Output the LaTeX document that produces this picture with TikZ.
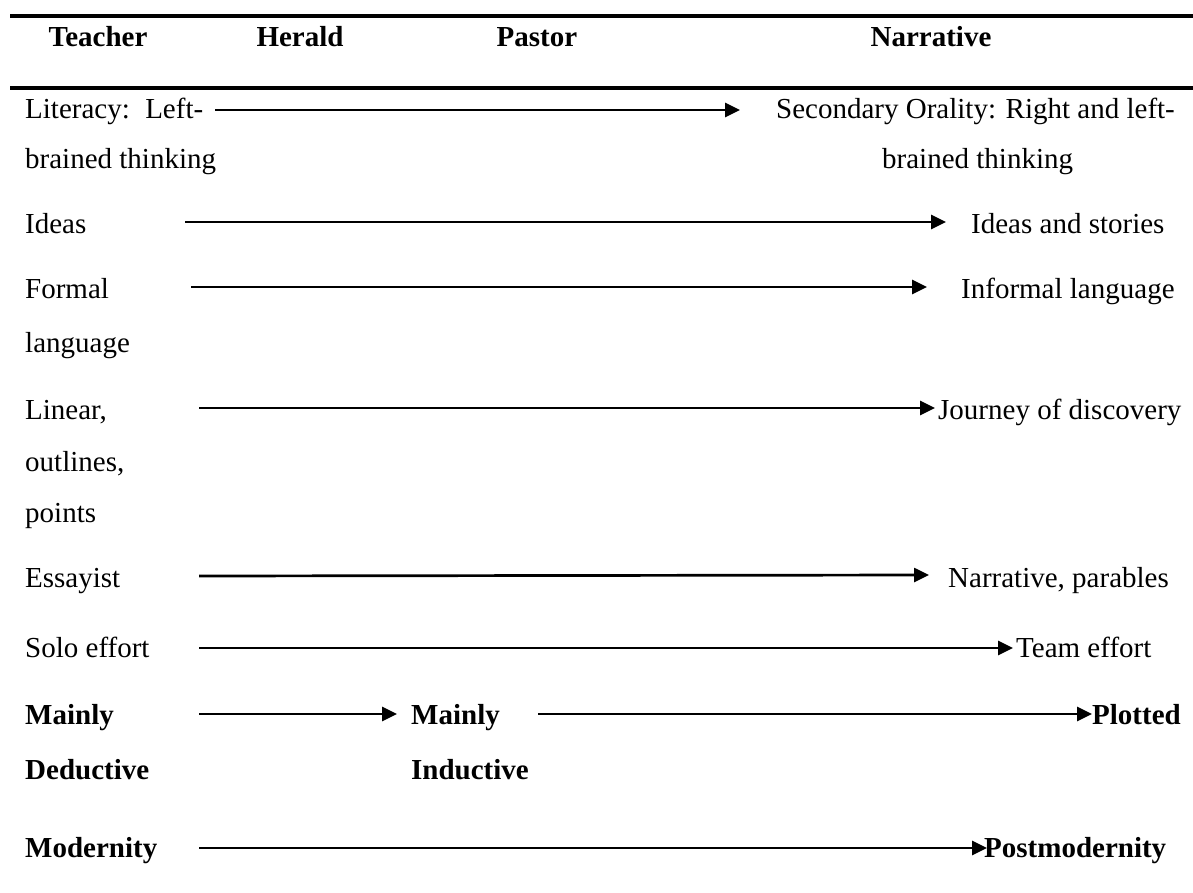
\documentclass[tikz,border=0pt]{standalone}
\usepackage{fontspec}
\setmainfont{Liberation Serif}
\usetikzlibrary{arrows.meta}
\begin{document}
\begin{tikzpicture}[x=1pt,y=-1pt,
  txt/.style={inner sep=0pt,anchor=base west,font=\fontsize{29}{35}\selectfont},
  btxt/.style={txt,font=\fontsize{29}{35}\selectfont\bfseries},
  hd/.style={inner sep=0pt,anchor=base,font=\fontsize{29}{35}\selectfont\bfseries},
  arr/.style={line width=2.7pt,-{Triangle[length=15pt,width=14pt]}},
  rulel/.style={line width=3.2pt}]
\useasboundingbox (0,0) rectangle (1193,893);
% rules
\coordinate (r1a) at (10,16); \coordinate (r1b) at (1193,16);
\coordinate (r2a) at (10,88); \coordinate (r2b) at (1193,88);
\draw[rulel] (r1a) -- (r1b);
\draw[rulel] (r2a) -- (r2b);
% headers
\node[hd] (hteacher) at (98,47) {Teacher};
\node[hd] (hherald) at (300,47) {Herald};
\node[hd] (hpastor) at (537,47) {Pastor};
\node[hd] (hnarr) at (931,47) {Narrative};
% row 1
\node[txt] (lit1) at (25,119) {\hbox to 178pt{Literacy:\hfill Left-}};
\node[txt] (lit2) at (25,169) {brained thinking};
\node[txt] (sec1) at (776,119) {Secondary Orality: Right and left-};
\node[txt] (sec2) at (882,169) {brained thinking};
\coordinate (a1s) at (215,110); \coordinate (a1e) at (740,110);
\draw[arr] (a1s) -- (a1e);
% row 2
\node[txt] (ideas) at (25,234) {Ideas};
\node[txt] (ideas2) at (971,234) {Ideas and stories};
\coordinate (a2s) at (185,222); \coordinate (a2e) at (946,222);
\draw[arr] (a2s) -- (a2e);
% row 3
\node[txt] (form1) at (25,298) {Formal};
\node[txt] (form2) at (25,352) {language};
\node[txt] (inf) at (961,298) {Informal language};
\coordinate (a3s) at (191,287); \coordinate (a3e) at (927,287);
\draw[arr] (a3s) -- (a3e);
% row 4
\node[txt] (lin1) at (25,419) {Linear,};
\node[txt] (lin2) at (25,471) {outlines,};
\node[txt] (lin3) at (25,522) {points};
\node[txt] (jour) at (938,419) {Journey of discovery};
\coordinate (a4s) at (199,408); \coordinate (a4e) at (935,408);
\draw[arr] (a4s) -- (a4e);
% row 5
\node[txt] (ess) at (25,587) {Essayist};
\node[txt] (narr) at (948,587) {Narrative, parables};
\coordinate (a5s) at (199,576); \coordinate (a5e) at (929,575);
\draw[arr] (a5s) -- (a5e);
% row 6
\node[txt] (solo) at (25,657) {Solo effort};
\node[txt] (team) at (1016,657) {Team effort};
\coordinate (a6s) at (199,648); \coordinate (a6e) at (1013,648);
\draw[arr] (a6s) -- (a6e);
% row 7
\node[btxt] (md1) at (25,724) {Mainly};
\node[btxt] (md2) at (25,779) {Deductive};
\node[btxt] (mi1) at (411,724) {Mainly};
\node[btxt] (mi2) at (411,779) {Inductive};
\node[btxt] (plot) at (1092,724) {Plotted};
\coordinate (a7s) at (199,714); \coordinate (a7e) at (397,714);
\coordinate (a8s) at (538,714); \coordinate (a8e) at (1092,714);
\draw[arr] (a7s) -- (a7e);
\draw[arr] (a8s) -- (a8e);
% row 8
\node[btxt] (mod) at (25,857) {Modernity};
\node[btxt] (pmod) at (984,857) {Postmodernity};
\coordinate (a9s) at (199,848); \coordinate (a9e) at (987,848);
\draw[arr] (a9s) -- (a9e);
\end{tikzpicture}
\end{document}
